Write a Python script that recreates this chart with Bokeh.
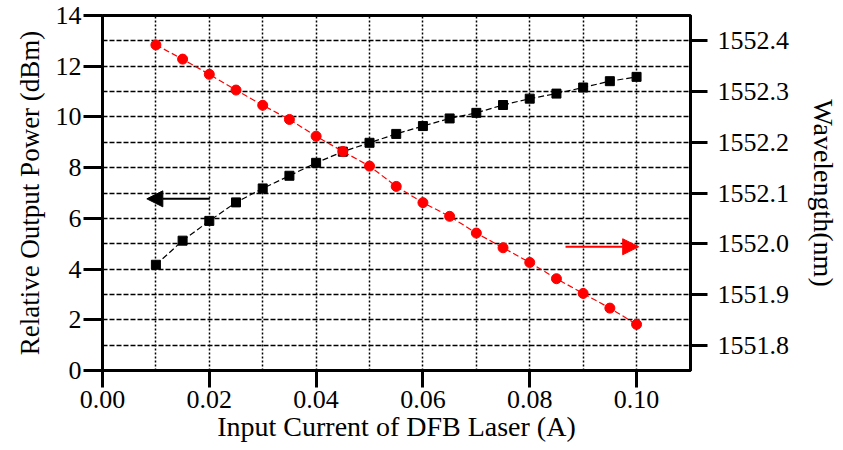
from bokeh.plotting import figure
from bokeh.models import Range1d, LinearAxis, FixedTicker, PrintfTickFormatter, Arrow, NormalHead, ColumnDataSource
from bokeh.embed import file_html
from bokeh.resources import INLINE

# ---- data ----
current = [0.010, 0.015, 0.020, 0.025, 0.030, 0.035, 0.040, 0.045, 0.050, 0.055,
           0.060, 0.065, 0.070, 0.075, 0.080, 0.085, 0.090, 0.095, 0.100]
power_dbm = [4.17, 5.12, 5.90, 6.63, 7.18, 7.68, 8.19, 8.63, 8.98, 9.33,
             9.64, 9.94, 10.16, 10.47, 10.72, 10.92, 11.16, 11.41, 11.58]
wavelength_nm = [1552.392, 1552.364, 1552.334, 1552.303, 1552.273, 1552.245, 1552.212, 1552.182,
                 1552.153, 1552.113, 1552.081, 1552.054, 1552.021, 1551.992, 1551.963, 1551.931,
                 1551.902, 1551.873, 1551.841]
x_ticks = [0.00, 0.02, 0.04, 0.06, 0.08, 0.10]
y_ticks = [0, 2, 4, 6, 8, 10, 12, 14]
wl_ticks = [1551.8, 1551.9, 1552.0, 1552.1, 1552.2, 1552.3, 1552.4]
x_grid = [0.01, 0.02, 0.03, 0.04, 0.05, 0.06, 0.07, 0.08, 0.09, 0.10]
y_grid = [1, 2, 3, 4, 5, 6, 7, 8, 9, 10, 11, 12, 13]
# annotation arrows (x_start, x_end, y in dBm units)
black_arrow = (0.0201, 0.0083, 6.77)
red_arrow = (0.0867, 0.1004, 4.88)

FONT = "Liberation Serif"

p = figure(width=843, height=450, output_backend="svg", toolbar_location=None,
           x_range=Range1d(0, 0.1101), y_range=Range1d(0, 14),
           min_border_left=102, min_border_right=153, min_border_top=15, min_border_bottom=80)
p.extra_y_ranges = {"wl": Range1d(1551.75, 1552.45)}

p.outline_line_color = "black"
p.outline_line_width = 3

# grids
p.xgrid.ticker = FixedTicker(ticks=x_grid)
p.ygrid.ticker = FixedTicker(ticks=y_grid)
p.xgrid.grid_line_color = "black"
p.xgrid.grid_line_dash = "2 2"
p.xgrid.grid_line_width = 1.5
p.ygrid.grid_line_color = "black"
p.ygrid.grid_line_dash = "5 2"
p.ygrid.grid_line_width = 1.5

def style_axis(ax, ticks, fmt, label, standoff_lbl, label_standoff, label_size="27px"):
    ax.ticker = FixedTicker(ticks=ticks)
    ax.formatter = PrintfTickFormatter(format=fmt)
    ax.axis_label = label
    ax.axis_line_width = 3
    ax.axis_line_color = "black"
    ax.major_tick_line_width = 3
    ax.major_tick_in = 0
    ax.major_tick_out = 17
    ax.minor_tick_line_color = None
    ax.major_label_text_font = FONT
    ax.major_label_text_font_size = "26px"
    ax.major_label_text_color = "black"
    ax.major_label_standoff = standoff_lbl
    ax.axis_label_text_font = FONT
    ax.axis_label_text_font_size = label_size
    ax.axis_label_text_font_style = "normal"
    ax.axis_label_text_color = "black"
    ax.axis_label_standoff = label_standoff

style_axis(p.xaxis[0], x_ticks, "%.2f", "Input Current of DFB Laser (A)", 3, 0, "28px")
style_axis(p.yaxis[0], y_ticks, "%d", "Relative Output Power (dBm)", 2, 8)
p.yaxis[0].major_tick_out = 19

ax_r = LinearAxis(y_range_name="wl")
style_axis(ax_r, wl_ticks, "%.1f", "Wavelength(nm)", 10, 16, "28px")
p.add_layout(ax_r, "right")

src = ColumnDataSource(dict(x=current, p=power_dbm, w=wavelength_nm))

p.line("x", "p", source=src, line_color="black", line_width=1.2, line_dash="6 3")
p.scatter("x", "p", source=src, marker="square", size=9, color="black")

p.line("x", "w", source=src, y_range_name="wl", line_color="red", line_width=1.2, line_dash="6 3")
p.scatter("x", "w", source=src, y_range_name="wl", marker="circle", size=10, color="red")

p.add_layout(Arrow(x_start=black_arrow[0], x_end=black_arrow[1], y_start=black_arrow[2], y_end=black_arrow[2],
                   line_color="black", line_width=2,
                   end=NormalHead(size=16, fill_color="black", line_color="black")))
p.add_layout(Arrow(x_start=red_arrow[0], x_end=red_arrow[1], y_start=red_arrow[2], y_end=red_arrow[2],
                   line_color="red", line_width=2,
                   end=NormalHead(size=16, fill_color="red", line_color="red")))

open("out.html", "w").write(file_html(p, INLINE))
